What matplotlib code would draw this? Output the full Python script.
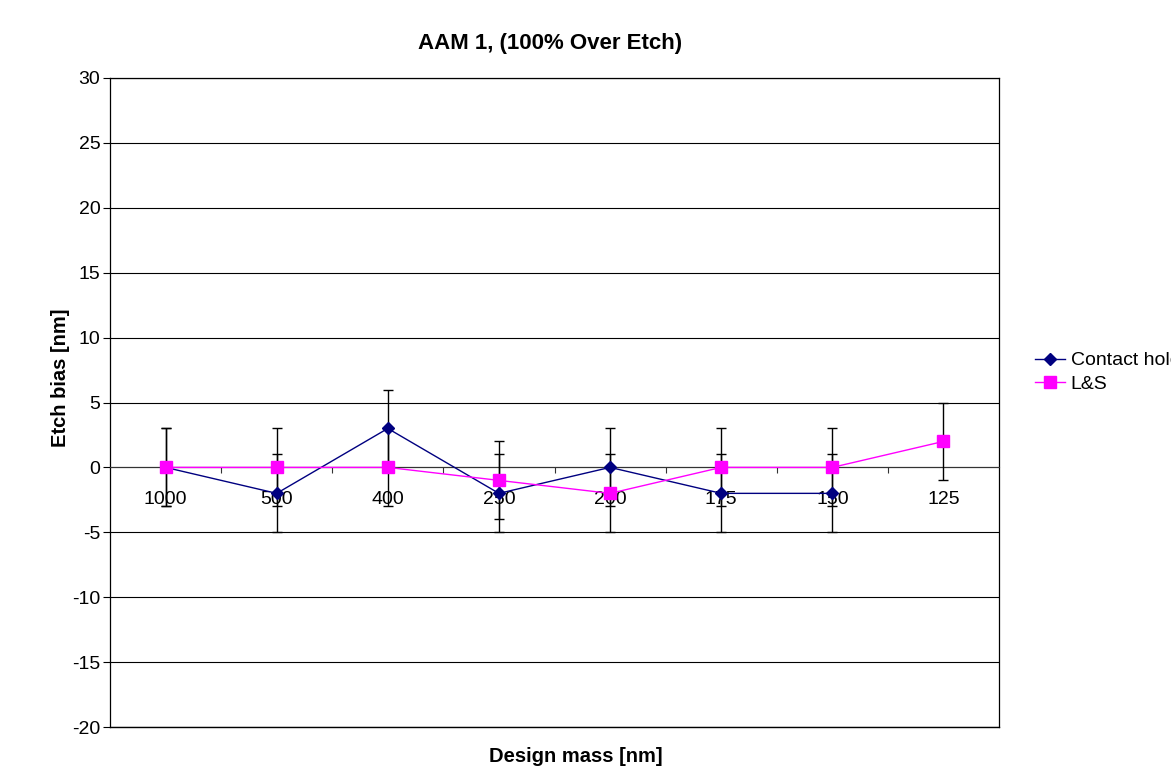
import matplotlib
matplotlib.use("Agg")
import matplotlib.pyplot as plt
import numpy as np

categories = ["1000", "500", "400", "250", "200", "175", "150", "125"]
contact_holes = [0, -2, 3, -2, 0, -2, -2, None]
contact_err = [3, 3, 3, 3, 3, 3, 3, None]
ls_values = [0, 0, 0, -1, -2, 0, 0, 2]
ls_err = [3, 3, 3, 3, 3, 3, 3, 3]
yticks = list(range(-20, 31, 5))

plt.rcParams['font.family'] = ['Liberation Sans', 'DejaVu Sans']
plt.rcParams['axes.unicode_minus'] = False

fig = plt.figure(figsize=(11.71, 7.69), dpi=100)
ax = fig.add_axes([110/1171, 42/769, 889/1171, 649/769])

x = np.arange(len(categories))

def clean(vals, errs):
    xs, ys, es = [], [], []
    for xi, v, e in zip(x, vals, errs):
        if v is not None:
            xs.append(xi); ys.append(v); es.append(e)
    return np.array(xs), np.array(ys), np.array(es)

cx, cy, ce = clean(contact_holes, contact_err)
lx, ly, le = clean(ls_values, ls_err)

ax.errorbar(cx, cy, yerr=ce, fmt='none', ecolor='black', elinewidth=1, capsize=3.5, capthick=1, zorder=3)
ax.errorbar(lx, ly, yerr=le, fmt='none', ecolor='black', elinewidth=1, capsize=3.5, capthick=1, zorder=3)

ax.plot(cx, cy, color='#000080', lw=1, marker='D', markersize=6.5, label='Contact holes', zorder=4)
ax.plot(lx, ly, color='#FF00FF', lw=1, marker='s', markersize=8.5, label='L&S', zorder=5)

ax.set_xlim(-0.5, len(categories) - 0.5)
ax.set_ylim(-20, 30)
ax.set_yticks(yticks)
ax.grid(axis='y', color='black', lw=0.8)
ax.set_axisbelow(True)
ax.axhline(-20, color='black', lw=1.0, clip_on=False, zorder=2)

ax.spines['bottom'].set_position(('data', 0))
ax.spines['bottom'].set_linewidth(0.8)
ax.spines['bottom'].set_color('#333333')
for s in ['left', 'right', 'top']:
    ax.spines[s].set_color('black')
    ax.spines[s].set_linewidth(0.9)

ax.set_xticks(np.arange(0.5, len(categories) - 1, 1))
ax.set_xticklabels([])
ax.tick_params(axis='x', which='major', direction='out', length=4, width=0.8, color='#333333')
ax.set_xticks(x, minor=True)
ax.set_xticklabels(categories, minor=True)
ax.tick_params(axis='x', which='minor', length=0, pad=17, labelsize=14)
ax.tick_params(axis='y', direction='out', length=5, width=0.8, labelsize=14, pad=2)

fig.text(550/1171, 1 - 44/769, 'AAM 1, (100% Over Etch)', fontsize=16, fontweight='bold', ha='center', va='center')
fig.text(60/1171, 1 - 378/769, 'Etch bias [nm]', fontsize=14.5, fontweight='bold', ha='center', va='center', rotation=90)
fig.text(576/1171, 1 - 757/769, 'Design mass [nm]', fontsize=14.5, fontweight='bold', ha='center', va='center')

fig.legend(loc='upper left', bbox_to_anchor=(1025/1171, 1 - 342/769), frameon=False,
           fontsize=14, handlelength=1.55, handletextpad=0.3, labelspacing=0.3, borderpad=0)

fig.savefig('out.png', dpi=100)
